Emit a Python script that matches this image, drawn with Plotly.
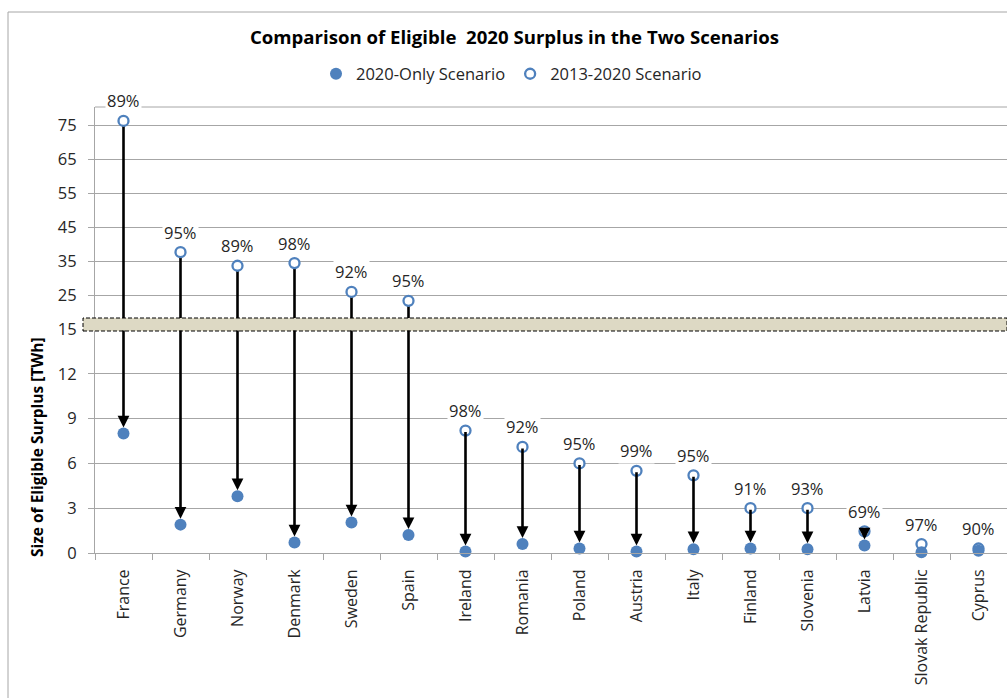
import plotly.graph_objects as go

countries = ["France", "Germany", "Norway", "Denmark", "Sweden", "Spain", "Ireland", "Romania",
             "Poland", "Austria", "Italy", "Finland", "Slovenia", "Latvia", "Slovak Republic", "Cyprus"]
scen_2013_2020 = [76.2, 37.6, 33.6, 34.4, 25.9, 23.3, 8.2, 7.1, 6.0, 5.5, 5.2, 3.0, 3.0, 1.45, 0.6, 0.3]
scen_2020_only = [8.0, 1.9, 3.8, 0.7, 2.05, 1.2, 0.1, 0.6, 0.3, 0.1, 0.25, 0.3, 0.25, 0.5, 0.05, 0.15]
pct_labels = ["89%", "95%", "89%", "98%", "92%", "95%", "98%", "92%", "95%", "99%", "95%", "91%",
              "93%", "69%", "97%", "90%"]

lower_ticks = [0, 3, 6, 9, 12, 15]
upper_ticks = [15, 25, 35, 45, 55, 65, 75]
BREAK = 15

BLUE = "#4F81BD"
FONT = "Open Sans"
W, H = 1007, 698
L, R, T, B = 95, 0, 107, 145
split_px = 329
plot_w = W - L - R
plot_h = H - T - B
split = (H - B - split_px) / plot_h

fig = go.Figure()

# upper part of arrows (values above the break)
ux, uy = [], []
for c, v in zip(countries, scen_2013_2020):
    if v > BREAK:
        ux += [c, c, None]
        uy += [v, BREAK, None]
fig.add_trace(go.Scatter(x=ux, y=uy, yaxis="y2", mode="lines",
                         line=dict(color="black", width=2.6), showlegend=False, hoverinfo="skip"))

low_x, low_y, up_x, up_y = [], [], [], []
for c, v in zip(countries, scen_2013_2020):
    if v > BREAK:
        up_x.append(c); up_y.append(v)
    else:
        low_x.append(c); low_y.append(v)

hollow = dict(color="white", size=10, line=dict(color=BLUE, width=2.3))
fig.add_trace(go.Scatter(x=low_x, y=low_y, yaxis="y", mode="markers", marker=hollow,
                         name="2013-2020 Scenario", showlegend=False, cliponaxis=False))
fig.add_trace(go.Scatter(x=up_x, y=up_y, yaxis="y2", mode="markers", marker=hollow,
                         name="2013-2020 Scenario", showlegend=False, cliponaxis=False))
fig.add_trace(go.Scatter(x=countries, y=scen_2020_only, yaxis="y", mode="markers",
                         marker=dict(color=BLUE, size=12), name="2020-Only Scenario", cliponaxis=False))
# legend entry for hollow marker
fig.add_trace(go.Scatter(x=[None], y=[None], yaxis="y", mode="markers", marker=hollow,
                         name="2013-2020 Scenario"))

annotations = []
for c, v_hi, v_lo, p in zip(countries, scen_2013_2020, scen_2020_only, pct_labels):
    start = BREAK if v_hi > BREAK else v_hi
    annotations.append(dict(x=c, y=v_lo, xref="x", yref="y", ax=c, ay=start, axref="x", ayref="y",
                            showarrow=True, arrowhead=2, arrowsize=0.9, arrowwidth=2.6,
                            arrowcolor="black", standoff=6, startstandoff=0, text=""))
    annotations.append(dict(x=c, y=v_hi, xref="x", yref="y2" if v_hi > BREAK else "y",
                            text=p, showarrow=False, yshift=20, bgcolor="white",
                            font=dict(family=FONT, size=16.5, color="#262626")))

annotations.append(dict(x=(37 - L) / plot_w, xref="paper", xanchor="center",
                        y=(H - B - 447) / plot_h, yref="paper", yanchor="middle",
                        text="<b>Size of Eligible Surplus [TWh]</b>", textangle=-90, showarrow=False,
                        font=dict(family=FONT, size=15.5, color="black")))

shapes = [
    dict(type="rect", xref="paper", yref="paper", x0=(8 - L) / plot_w, x1=1.02,
         y0=-0.4, y1=(H - B - 12) / plot_h, line=dict(color="#A6A6A6", width=1),
         fillcolor="rgba(0,0,0,0)", layer="below"),
    dict(type="line", xref="paper", yref="paper", x0=0, x1=1, y0=1, y1=1,
         line=dict(color="#A6A6A6", width=1)),
    dict(type="rect", xref="paper", yref="paper", x0=(83 - L) / plot_w, x1=1.0,
         y0=(H - B - 331) / plot_h, y1=(H - B - 318) / plot_h,
         fillcolor="#DDD9C4", line=dict(color="black", width=1, dash="4px,2px"), layer="above"),
]

axis_font = dict(family=FONT, size=16.5, color="#262626")
xfont = dict(family=FONT, size=16, color="#262626")
fig.update_layout(
    width=W, height=H, margin=dict(l=L, r=R, t=T, b=B),
    paper_bgcolor="white", plot_bgcolor="white",
    title=dict(text="<b>Comparison of Eligible  2020 Surplus in the Two Scenarios</b>",
               x=514.5 / W, xanchor="center", xref="container", y=1 - 37 / H, yanchor="middle",
               yref="container", font=dict(family=FONT, size=18.6, color="black")),
    legend=dict(orientation="h", x=(316 - L) / plot_w, xanchor="left", y=1 - 74 / H, yref="container",
                yanchor="middle", font=dict(family=FONT, size=16.5, color="#262626"),
                itemwidth=30, traceorder="normal"),
    xaxis=dict(type="category", categoryorder="array", categoryarray=countries,
               tickangle=-90, tickfont=xfont, tickson="boundaries", ticks="outside",
               ticklen=6, tickcolor="#A6A6A6", showline=True, linecolor="#A6A6A6",
               showgrid=False, anchor="y", range=[-0.5, len(countries) - 0.5],
               ticklabelstandoff=9),
    yaxis=dict(domain=[0, split], range=[0, 15], tickvals=lower_ticks, tickfont=axis_font,
               showgrid=True, gridcolor="#A6A6A6", gridwidth=1, ticks="outside", ticklen=6,
               tickcolor="#A6A6A6", showline=True, linecolor="#A6A6A6", zeroline=False,
               ticklabelstandoff=8),
    yaxis2=dict(domain=[split, 1], range=[15, 80.3], tickvals=upper_ticks[1:], tickfont=axis_font,
                showgrid=True, gridcolor="#A6A6A6", gridwidth=1, ticks="outside", ticklen=6,
                tickcolor="#A6A6A6", showline=True, linecolor="#A6A6A6", zeroline=False,
                anchor="x", ticklabelstandoff=8),
    annotations=annotations, shapes=shapes,
)

fig.write_html("out.html", config={"displayModeBar": False},
               post_script="document.body.style.margin='0';")
